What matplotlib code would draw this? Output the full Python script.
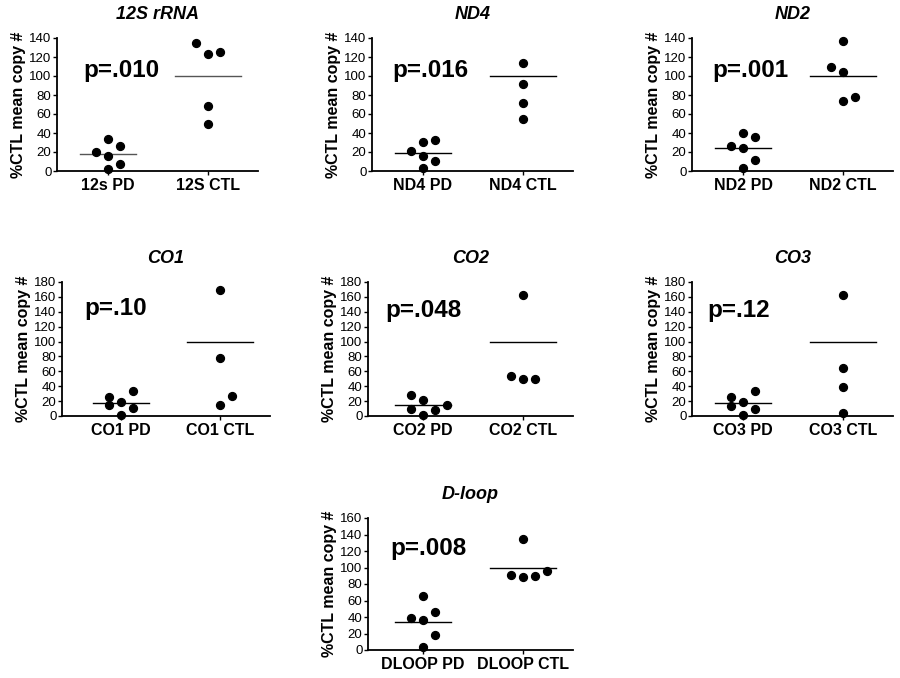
import matplotlib

matplotlib.use("Agg")
import matplotlib.pyplot as plt

plt.rcParams["font.family"] = ["Liberation Sans", "DejaVu Sans"]

# gene panels
titles = ["12S rRNA", "ND4", "ND2", "CO1", "CO2", "CO3", "D-loop"]
pd_labels = ["12s PD", "ND4 PD", "ND2 PD", "CO1 PD", "CO2 PD", "CO3 PD", "DLOOP PD"]
ctl_labels = ["12S CTL", "ND4 CTL", "ND2 CTL", "CO1 CTL", "CO2 CTL", "CO3 CTL", "DLOOP CTL"]
p_values = ["p=.010", "p=.016", "p=.001", "p=.10", "p=.048", "p=.12", "p=.008"]

pd_values = [
    [20.0, 33.4, 26.4, 15.8, 7.0, 2.1],
    [21.5, 30.2, 32.7, 16.2, 10.2, 2.8],
    [26.4, 39.7, 35.5, 23.9, 11.6, 2.8],
    [25.6, 15.3, 18.9, 33.3, 11.3, 0.9],
    [27.9, 9.9, 21.2, 0.9, 7.7, 14.4],
    [25.6, 13.0, 18.9, 33.8, 9.9, 0.9],
    [38.5, 65.6, 36.5, 46.6, 18.2, 4.0],
]
ctl_values = [
    [134.7, 123.1, 125.2, 68.6, 49.2],
    [113.6, 91.4, 71.4, 54.5],
    [136.5, 109.0, 103.8, 73.9, 78.1],
    [168.8, 77.4, 14.4, 27.0],
    [162.5, 53.6, 49.1, 49.1],
    [162.9, 64.8, 39.2, 4.0],
    [134.5, 91.1, 87.9, 90.3, 96.0],
]
pd_means = [17.5, 18.6, 24.6, 17.6, 14.4, 17.6, 34.4]
ctl_means = [100, 100, 100, 100, 100, 100, 100]
y_max = [140, 140, 140, 180, 180, 180, 160]
y_step = [20, 20, 20, 20, 20, 20, 20]

# horizontal jitter of the dots (column slots as drawn by the original software)
pd_slots = [
    [-0.12, 0, 0.12, 0, 0.12, 0],
    [-0.12, 0, 0.12, 0, 0.12, 0],
    [-0.12, 0, 0.12, 0, 0.12, 0],
    [-0.12, -0.12, 0, 0.12, 0.12, 0],
    [-0.12, -0.12, 0, 0, 0.12, 0.24],
    [-0.12, -0.12, 0, 0.12, 0.12, 0],
    [-0.12, 0, 0, 0.12, 0.12, 0],
]
ctl_slots = [
    [-0.12, 0, 0.12, 0, 0],
    [0, 0, 0, 0],
    [0, -0.12, 0, 0, 0.12],
    [0, 0, 0, 0.12],
    [0, -0.12, 0, 0.12],
    [0, 0, 0, 0],
    [0, -0.12, 0, 0.12, 0.24],
]

# axes boxes in pixels: left, right, top, bottom (of a 900x678 figure)
boxes = [
    (57, 258, 38, 171),
    (372, 573, 38, 171),
    (692, 893, 38, 171),
    (62, 270, 282, 416),
    (368, 573, 282, 416),
    (692, 893, 282, 416),
    (368, 573, 518, 650),
]
x_left = [-0.51, -0.51, -0.51, -0.59, -0.55, -0.51, -0.55]
p_pos = [(-0.25, 106), (-0.31, 106), (-0.31, 106), (-0.37, 145), (-0.38, 142), (-0.36, 142), (-0.33, 123)]

W, H = 900, 678
fig = plt.figure(figsize=(9, 6.78), dpi=100)

for i in range(len(titles)):
    left, right, top, bottom = boxes[i]
    ax = fig.add_axes([left / W, 1 - bottom / H, (right - left) / W, (bottom - top) / H])

    ax.scatter([0 + s for s in pd_slots[i]], pd_values[i], s=32, color="black", zorder=3, clip_on=False)
    ax.scatter([1 + s for s in ctl_slots[i]], ctl_values[i], s=32, color="black", zorder=3, clip_on=False)
    mean_color = "#555555" if i == 0 else "black"
    ax.plot([-0.28, 0.28], [pd_means[i]] * 2, color=mean_color, lw=1.0)
    ax.plot([0.67, 1.33], [ctl_means[i]] * 2, color=mean_color, lw=1.0)

    ax.text(p_pos[i][0], p_pos[i][1], p_values[i], fontsize=17.5, fontweight="bold", va="center", ha="left")

    ax.set_xlim(x_left[i], 1.5)
    ax.set_ylim(0, y_max[i])
    ax.set_yticks(range(0, y_max[i] + 1, y_step[i]))
    ax.set_xticks([0, 1])
    ax.set_xticklabels([pd_labels[i], ctl_labels[i]], fontsize=11.5, fontweight="bold")
    ax.tick_params(axis="y", labelsize=9.5, length=3, width=1, pad=1)
    ax.tick_params(axis="x", length=3, width=1, pad=2)
    for side in ("top", "right"):
        ax.spines[side].set_visible(False)
    for side in ("left", "bottom"):
        ax.spines[side].set_linewidth(1.3)
    ax.set_ylabel("%CTL mean copy #", fontsize=11.5, fontweight="bold", labelpad=2)
    ax.set_title(titles[i], fontsize=13, fontweight="bold", style="italic", pad=14)

fig.savefig("out.png", dpi=100)
